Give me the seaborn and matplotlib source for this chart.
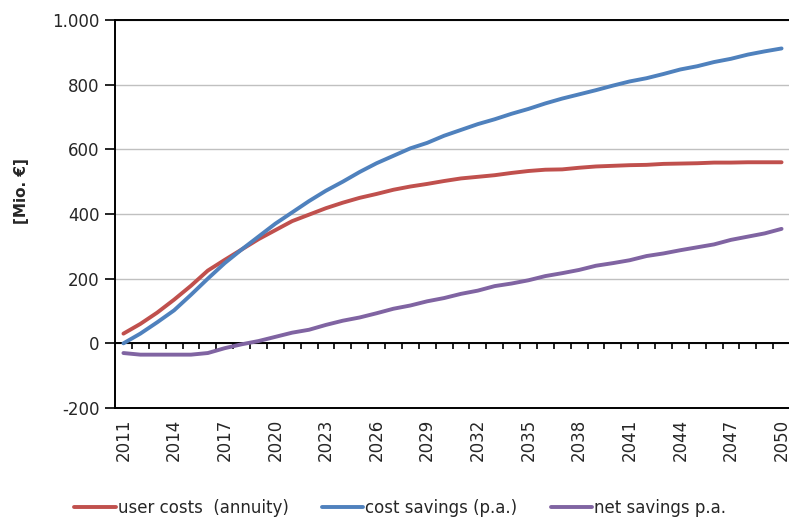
import numpy as np
import pandas as pd
import matplotlib
matplotlib.use("Agg")
import matplotlib.pyplot as plt
import seaborn as sns

sns.set_style("white")
plt.rcParams["font.family"] = ["DejaVu Sans"]

# data
years = list(range(2011, 2051))
user_costs = [30, 60, 95, 135, 178, 225, 258, 290, 322, 350,
              378, 398, 418, 435, 450, 462, 475, 485, 493, 502,
              510, 515, 520, 527, 533, 537, 538, 543, 547, 549,
              551, 552, 555, 556, 557, 559, 559, 560, 560, 560]
cost_savings = [0, 30, 65, 102, 150, 200, 248, 290, 330, 370,
                405, 440, 472, 500, 530, 557, 580, 603, 620, 642,
                660, 678, 693, 710, 725, 742, 757, 770, 783, 797,
                810, 820, 833, 847, 857, 870, 880, 893, 903, 912]
net_savings = [-30, -35, -35, -35, -35, -30, -15, -3, 7, 20,
               33, 42, 57, 70, 80, 93, 107, 117, 130, 140,
               153, 163, 177, 185, 195, 208, 217, 227, 240, 248,
               257, 270, 278, 288, 297, 306, 320, 330, 340, 354]
series_names = ["user costs  (annuity)", "cost savings (p.a.)", "net savings p.a."]
colors = ["#C0504D", "#4F81BD", "#8064A2"]

df = pd.concat([
    pd.DataFrame({"year": years, "value": v, "series": n})
    for n, v in zip(series_names, [user_costs, cost_savings, net_savings])
])

fig = plt.figure(figsize=(7.89, 5.17), dpi=100)
ax = fig.add_axes([115 / 789, (517 - 408) / 517, 675 / 789, 388 / 517])

sns.lineplot(data=df, x="year", y="value", hue="series", palette=colors,
             linewidth=2.8, ax=ax, legend=False)

ax.set_xlim(2010.5, 2050.5)
ax.set_ylim(-200, 1000)
ax.set_yticks(range(-200, 1001, 200))
ax.set_yticklabels(["-200", "0", "200", "400", "600", "800", "1.000"], fontsize=12)
ax.yaxis.grid(True, color="#C0C0C0", linewidth=1)
ax.set_axisbelow(True)

# category labels every 3 years
ax.set_xticks(years[::3])
ax.set_xticklabels([str(y) for y in years[::3]], rotation=90, fontsize=12)
ax.tick_params(axis="x", length=0, pad=8)
ax.tick_params(axis="y", direction="out", length=7, width=1.2, color="black", left=True, pad=4)

for s in ["left", "bottom", "top"]:
    ax.spines[s].set_color("black")
    ax.spines[s].set_linewidth(1.4)
ax.spines["right"].set_visible(False)

# horizontal category axis at zero with tick marks between categories
ax.axhline(0, color="black", linewidth=1.4, zorder=1)
bounds = np.array(years[1:]) - 0.5
ax.vlines(bounds, -19, 0, color="black", linewidth=1.2, zorder=1)

ax.set_xlabel("")
ax.set_ylabel("[Mio. €]", fontsize=11, fontweight="bold")
ax.yaxis.set_label_coords(-0.128, 0.56)

handles = [plt.Line2D([], [], color=c, linewidth=2.8) for c in colors]
fig.legend(handles, series_names, loc="center", bbox_to_anchor=(0.507, 0.017),
           ncol=3, frameon=False, fontsize=12, handlelength=2.5,
           handletextpad=0.1, columnspacing=2.0)

fig.savefig("out.png", dpi=100)
